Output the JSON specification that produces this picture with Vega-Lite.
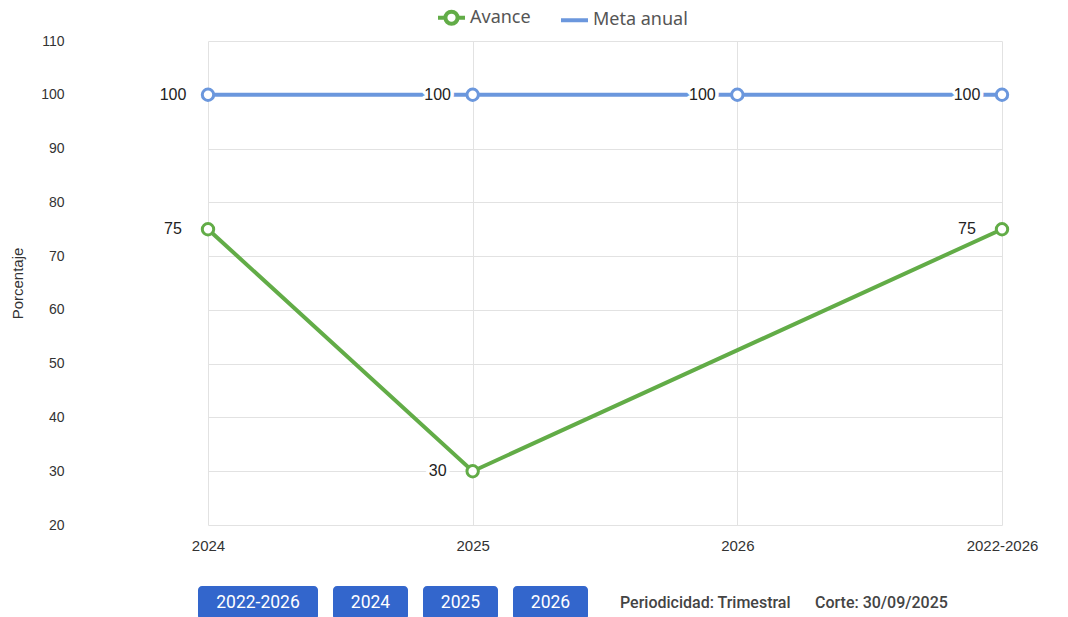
{
  "$schema": "https://vega.github.io/schema/vega-lite/v6.json",
  "padding": {"left": 10, "top": 2, "right": 0, "bottom": 0},
  "background": "white",
  "config": {"view": {"stroke": null}},
  "spacing": 33,
  "vconcat": [
    {
      "width": 993,
      "height": 484,
      "data": {
        "values": [
          {"periodo": "2024", "serie": "Avance", "valor": 75},
          {"periodo": "2025", "serie": "Avance", "valor": 30},
          {"periodo": "2022-2026", "serie": "Avance", "valor": 75},
          {"periodo": "2024", "serie": "Meta anual", "valor": 100},
          {"periodo": "2025", "serie": "Meta anual", "valor": 100},
          {"periodo": "2026", "serie": "Meta anual", "valor": 100},
          {"periodo": "2022-2026", "serie": "Meta anual", "valor": 100}
        ]
      },
      "encoding": {
        "x": {
          "field": "periodo",
          "type": "ordinal",
          "sort": ["2024", "2025", "2026", "2022-2026"],
          "scale": {"type": "point", "domain": ["2024", "2025", "2026", "2022-2026"], "range": [132, 926], "padding": 0},
          "axis": {
            "title": null,
            "labelAngle": 0,
            "grid": true,
            "gridColor": "#e2e2e2",
            "ticks": false,
            "domain": false,
            "labelPadding": 13,
            "labelFont": "Liberation Sans",
            "labelFontSize": 15,
            "labelColor": "#333333"
          }
        },
        "y": {
          "field": "valor",
          "type": "quantitative",
          "scale": {"domain": [20, 110], "nice": false, "zero": false},
          "axis": {
            "title": "Porcentaje",
            "values": [20, 30, 40, 50, 60, 70, 80, 90, 100, 110],
            "grid": true,
            "gridColor": "#e2e2e2",
            "ticks": false,
            "domain": false,
            "labelPadding": 12,
            "labelFont": "Liberation Sans",
            "labelFontSize": 14,
            "labelColor": "#333333",
            "titleFont": "Liberation Sans",
            "titleFontSize": 15,
            "titleFontWeight": "normal",
            "titleColor": "#333333",
            "titlePadding": 15
          }
        }
      },
      "layer": [
        {
          "mark": {"type": "line", "strokeWidth": 4},
          "encoding": {
            "color": {
              "field": "serie",
              "type": "nominal",
              "scale": {"domain": ["Avance", "Meta anual"], "range": ["#62ac47", "#6b97dd"]},
              "legend": {
                "title": null,
                "orient": "none",
                "legendX": 360,
                "legendY": -39,
                "direction": "horizontal",
                "labelFont": "Noto Sans",
                "labelFontSize": 18,
                "labelColor": "#555555",
                "labelOffset": 3,
                "columnPadding": 22,
                "symbolSize": 729,
                "symbolStrokeWidth": 4,
                "encode": {
                  "symbols": {
                    "update": {
                      "shape": {"signal": "datum.value === 'Avance' ? 'M-1,0H-0.45M0.45,0H1M-0.45,0A0.45,0.45 0 1,1 0.45,0A0.45,0.45 0 1,1 -0.45,0Z' : 'M-1,0H1'"},
                      "fill": {"signal": "datum.value === 'Avance' ? 'white' : 'transparent'"},
                      "strokeWidth": {"value": 4},
                      "opacity": {"value": 1}
                    }
                  }
                }
              }
            }
          }
        },
        {
          "mark": {"type": "text", "dx": -35, "fontSize": 16, "font": "Liberation Sans", "fill": "white", "stroke": "white", "strokeWidth": 7, "strokeJoin": "round", "baseline": "middle"},
          "encoding": {"text": {"field": "valor", "type": "quantitative"}}
        },
        {
          "mark": {"type": "text", "dx": -35, "fontSize": 16, "font": "Liberation Sans", "color": "#222222", "baseline": "middle"},
          "encoding": {"text": {"field": "valor", "type": "quantitative"}}
        },
        {
          "mark": {"type": "point", "filled": false, "fill": "white", "strokeWidth": 3, "size": 130, "opacity": 1},
          "encoding": {
            "color": {"field": "serie", "type": "nominal"}
          }
        }
      ]
    },
    {
      "spacing": 15,
      "hconcat": [
        {
          "width": 242,
          "height": 34,
          "data": {"values": [{"boton": "2022-2026"}]},
          "encoding": {
            "x": {"field": "boton", "type": "nominal", "scale": {"paddingInner": 0, "paddingOuter": 0.50833, "align": 1}, "axis": null}
          },
          "layer": [
            {"mark": {"type": "rect", "color": "#3366cc", "cornerRadius": 4}},
            {"mark": {"type": "text", "color": "white", "fontSize": 17.5, "font": "Roboto", "baseline": "middle"}, "encoding": {"text": {"field": "boton"}}}
          ]
        },
        {
          "width": 255,
          "height": 34,
          "data": {"values": [{"boton": "2024"}, {"boton": "2025"}, {"boton": "2026"}]},
          "encoding": {
            "x": {"field": "boton", "type": "nominal", "sort": null, "scale": {"paddingInner": 0.16667, "paddingOuter": 0}, "axis": null}
          },
          "layer": [
            {"mark": {"type": "rect", "color": "#3366cc", "cornerRadius": 4}},
            {"mark": {"type": "text", "color": "white", "fontSize": 17.5, "font": "Roboto", "baseline": "middle"}, "encoding": {"text": {"field": "boton"}}}
          ]
        },
        {
          "width": 350,
          "height": 34,
          "data": {"values": [{"texto": "Periodicidad: Trimestral"}, {"texto": "Corte: 30/09/2025"}]},
          "mark": {"type": "text", "align": "left", "baseline": "middle", "fontSize": 16, "fontWeight": 500, "font": "Roboto", "color": "#444444"},
          "encoding": {
            "x": {"field": "texto", "type": "nominal", "sort": null, "scale": {"type": "point", "range": [17, 212], "padding": 0}, "axis": null},
            "text": {"field": "texto"}
          }
        }
      ]
    }
  ]
}
